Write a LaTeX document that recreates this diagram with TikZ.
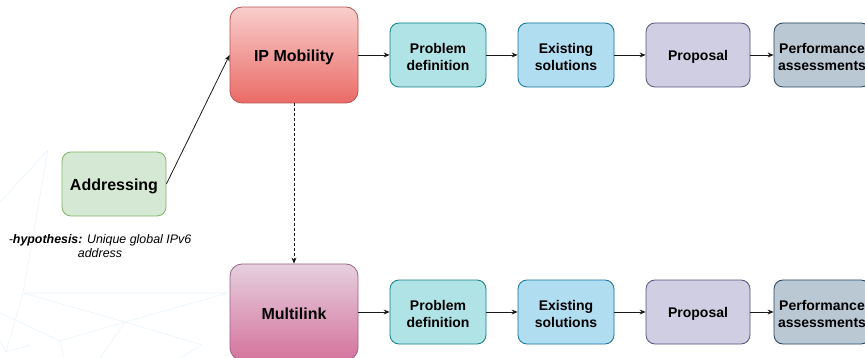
\documentclass[tikz,border=0pt]{standalone}
\usepackage{fontspec}
\setmainfont{Liberation Sans}
\usetikzlibrary{arrows.meta}
\definecolor{bgline}{HTML}{E8F4FB}
\definecolor{mobtop}{HTML}{F8CECC}
\definecolor{mobbot}{HTML}{EA6B66}
\definecolor{mobline}{HTML}{B85450}
\definecolor{multop}{HTML}{E6D0DE}
\definecolor{mulbot}{HTML}{D5739D}
\definecolor{mulline}{HTML}{996185}
\definecolor{probfill}{HTML}{B0E3E6}
\definecolor{probline}{HTML}{0E8088}
\definecolor{exfill}{HTML}{B1DDF0}
\definecolor{exline}{HTML}{10739E}
\definecolor{propfill}{HTML}{D0CEE2}
\definecolor{propline}{HTML}{56517E}
\definecolor{perffill}{HTML}{BAC8D3}
\definecolor{perfline}{HTML}{23445D}
\definecolor{addrfill}{HTML}{D5E8D4}
\definecolor{addrline}{HTML}{82B366}
\definecolor{arrowc}{HTML}{1A1A1A}
\begin{document}
\begin{tikzpicture}[x=1pt,y=-1pt,
  bigbox/.style={rounded corners=12pt, minimum width=128pt, minimum height=96pt,
    line width=0.8pt, inner sep=0pt},
  smallbox/.style={rounded corners=9pt, minimum width=96pt, minimum height=64pt,
    line width=0.8pt, inner sep=0pt},
  bigtxt/.style={align=center, inner sep=0pt, font=\fontsize{16}{19}\selectfont\bfseries},
  smalltxt/.style={align=center, inner sep=0pt, font=\fontsize{14}{17}\selectfont\bfseries},
  conn/.style={line width=0.8pt, arrowc, -{Stealth[length=6pt,width=5pt]}},
  bgl/.style={bgline, line width=0.6pt}
]
\useasboundingbox (0,0) rectangle (865,358);
\clip (0,0) rectangle (865,358);
% faint background mesh
\coordinate (pA) at (48,150);
\coordinate (pB) at (0,202);
\coordinate (pD) at (23,293);
\coordinate (pE) at (228,293);
\coordinate (pF) at (125,322);
\coordinate (pG) at (202,345);
\coordinate (pH) at (60,341);
\coordinate (pI) at (0,313);
\coordinate (pJ) at (6,352);
\draw[bgl] (pB) -- (pA) -- (pD) -- (pE) -- (pF) -- (pD);
\draw[bgl] (pF) -- (pG) -- (180,358);
\draw[bgl] (pI) -- (pH) -- (pF);
\draw[bgl] (pH) -- (64,358);
\draw[bgl] (pD) -- (pJ);
\draw[bgl] (pJ) -- (0,340);
\draw[bgl] (pJ) -- (30,345);
\draw[bgl] (pF) -- (100,358);

% top row
\node[bigbox, draw=mobline, top color=mobtop, bottom color=mobbot] (mob) at (294,55) {};
\node[smallbox, draw=probline, fill=probfill] (p1) at (438,55) {};
\node[smallbox, draw=exline, fill=exfill] (e1) at (566,55) {};
\node[smallbox, draw=propline, fill=propfill, minimum width=104pt] (r1) at (698,55) {};
\node[smallbox, draw=perfline, fill=perffill] (f1) at (822,55) {};

% bottom row
\node[bigbox, draw=mulline, top color=multop, bottom color=mulbot] (mul) at (294,312) {};
\node[smallbox, draw=probline, fill=probfill] (p2) at (438,312) {};
\node[smallbox, draw=exline, fill=exfill] (e2) at (566,312) {};
\node[smallbox, draw=propline, fill=propfill, minimum width=104pt] (r2) at (698,312) {};
\node[smallbox, draw=perfline, fill=perffill] (f2) at (822,312) {};

% addressing
\node[smallbox, draw=addrline, fill=addrfill, minimum width=104pt] (addr) at (114,184) {};

% box texts
\node[bigtxt] (mobt) at ([yshift=-2pt]mob.center) {IP Mobility};
\node[bigtxt] (mult) at ([yshift=-2pt]mul.center) {Multilink};
\node[bigtxt] (addrt) at ([yshift=-2pt]addr.center) {Addressing};
\node[smalltxt] (p1t) at ([yshift=-2pt]p1.center) {Problem\\definition};
\node[smalltxt] (e1t) at ([yshift=-2pt]e1.center) {Existing\\solutions};
\node[smalltxt] (r1t) at ([yshift=-2pt]r1.center) {Proposal};
\node[smalltxt] (f1t) at ([yshift=-2pt]f1.center) {Performance\\assessments};
\node[smalltxt] (p2t) at ([yshift=-2pt]p2.center) {Problem\\definition};
\node[smalltxt] (e2t) at ([yshift=-2pt]e2.center) {Existing\\solutions};
\node[smalltxt] (r2t) at ([yshift=-2pt]r2.center) {Proposal};
\node[smalltxt] (f2t) at ([yshift=-2pt]f2.center) {Performance\\assessments};

\node[align=center, font=\fontsize{12.4}{14}\selectfont\itshape, inner sep=0pt] (hyp) at (100,246)
  {-\textbf{hypothesis:} Unique global IPv6\\address};

% connectors
\draw[conn] (addr.east) -- (mob.west);
\draw[conn, dash pattern=on 3pt off 2pt] (mob.south) -- (mul.north);
\draw[conn] (mob) -- (p1);
\draw[conn] (p1) -- (e1);
\draw[conn] (e1) -- (r1);
\draw[conn] (r1) -- (f1);
\draw[conn] (mul) -- (p2);
\draw[conn] (p2) -- (e2);
\draw[conn] (e2) -- (r2);
\draw[conn] (r2) -- (f2);
\end{tikzpicture}
\end{document}
